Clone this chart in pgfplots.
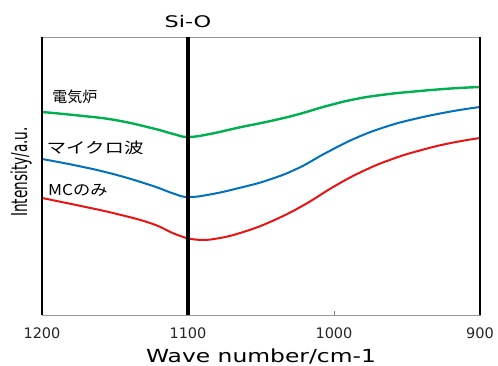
\documentclass[border=0pt]{standalone}
\usepackage{pgfplots}
\pgfplotsset{compat=1.18}
\usepackage{fontspec}
\setmainfont{DejaVu Sans}
\newfontfamily\jp{Noto Sans CJK JP}
\usepackage{graphicx}
\definecolor{cgreen}{RGB}{0,176,80}
\definecolor{cblue}{RGB}{0,112,192}
\definecolor{cred}{RGB}{232,20,20}
\begin{document}
\begin{tikzpicture}
\begin{axis}[
  scale only axis, width=438pt, height=278pt,
  xmin=900, xmax=1200, ymin=0, ymax=278, x dir=reverse,
  xtick={900,1000,1100,1200}, ytick=\empty, xtick pos=bottom,
  tick align=inside, major tick length=4pt,
  xtick style={gray, line width=0.8pt},
  xticklabel style={font=\fontsize{14.5}{16}\selectfont, text=black!85, anchor=center, yshift=-18pt},
  /pgf/number format/assume math mode=true,
  /pgf/number format/1000 sep={},
  axis line style={gray!80, line width=0.8pt},
  clip=false,
]
\addplot[smooth, tension=0.75, cgreen, line width=2.4pt] coordinates {
 (1200,203) (1175,199.5) (1150,195) (1125,187) (1110,181) (1100,178)
 (1085,181) (1065,187.5) (1045,193.5) (1025,200.5) (1005,209) (985,216)
 (965,220.5) (945,223.5) (920,226.5) (900,228)};
\addplot[smooth, tension=0.75, cblue, line width=2pt] coordinates {
 (1200,156) (1175,149) (1150,140.5) (1125,129.5) (1110,121.5) (1100,118)
 (1085,120.5) (1065,127) (1045,135) (1025,146.5) (1005,162.5) (985,177)
 (965,188) (945,196) (920,203.5) (900,208)};
\addplot[smooth, tension=0.75, cred, line width=2pt] coordinates {
 (1200,117) (1175,109.5) (1150,101.5) (1125,91.5) (1108,80.5) (1095,75.5)
 (1080,76.5) (1060,84) (1040,95.5) (1020,110.5) (1000,128.5) (980,144)
 (960,156) (940,165) (920,172) (900,177)};
\draw[black, line width=1.8pt] (rel axis cs:0,0) -- (rel axis cs:0,1);
\draw[black, line width=1.2pt] (rel axis cs:1,0) -- (rel axis cs:1,1);
\draw[black, line width=3.5pt] (axis cs:1100,0) -- (axis cs:1100,278);
\node[anchor=west, inner sep=0pt] at (axis cs:1193,218) {\jp\fontsize{15}{18}\selectfont 電気炉};
\node[anchor=west, inner sep=0pt] at (axis cs:1197,167) {\scalebox{1.3}[1]{\jp\fontsize{15}{18}\selectfont マイクロ波}};
\node[anchor=west, inner sep=0pt] at (axis cs:1196,125) {\scalebox{1.15}[1]{\jp\fontsize{15}{18}\selectfont MCのみ}};
\node[yshift=15pt] at (axis cs:1100,278) {\scalebox{1.4}[1]{\fontsize{16}{18}\selectfont Si-O}};
\node[yshift=-41pt] at (rel axis cs:0.5,0) {\scalebox{1.3}[1]{\fontsize{18}{20}\selectfont Wave number/cm-1}};
\node[rotate=90, xshift=4pt, yshift=21pt] at (rel axis cs:0,0.5) {\scalebox{0.62}[1]{\fontsize{22}{24}\selectfont Intensity/a.u.}};
\end{axis}
\pgfresetboundingbox
\path ([shift={(-42pt,-50pt)}]current axis.south west) rectangle ([shift={(18pt,37pt)}]current axis.north east);
\end{tikzpicture}
\end{document}
